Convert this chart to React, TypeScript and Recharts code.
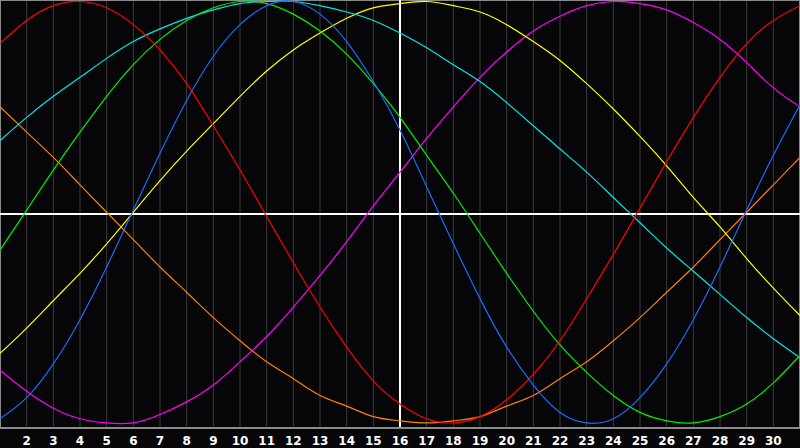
import React from "react";
import { LineChart, Line, XAxis, YAxis, CartesianGrid, ReferenceLine } from "recharts";

const days = [1,2,3,4,5,6,7,8,9,10,11,12,13,14,15,16,17,18,19,20,21,22,23,24,25,26,27,28,29,30,31];
const tickDays = [2,3,4,5,6,7,8,9,10,11,12,13,14,15,16,17,18,19,20,21,22,23,24,25,26,27,28,29,30];

const red = [80,91,98,100,97,89,77,61,41,20,-2,-24,-45,-64,-80,-91,-98,-100,-97,-89,-77,-61,-41,-20,2,24,45,64,80,91,98];
const green = [-18,1,20,38,55,70,82,91,97,100,99,94,86,75,61,45,27,9,-10,-29,-47,-63,-76,-87,-95,-99,-100,-97,-91,-81,-68];
const cyan = [34,45,55,64,73,81,87,92,96,99,100,100,98,95,91,85,78,70,62,52,41,30,19,7,-5,-17,-28,-39,-50,-60,-69];
const blue = [-98,-88,-72,-51,-26,1,28,53,74,89,98,100,94,81,62,39,12,-15,-41,-64,-82,-95,-100,-98,-88,-72,-51,-26,1,27,51];
const yellow = [-67,-55,-42,-29,-15,0,15,29,42,55,67,77,85,92,97,99,100,98,95,89,81,72,61,49,36,22,7,-7,-22,-36,-49];
const magenta = [-75,-85,-93,-98,-100,-100,-96,-90,-82,-71,-59,-45,-30,-14,3,19,35,50,64,76,86,93,98,100,99,96,90,82,71,59,50];
const orange = [50,38,26,13,0,-13,-26,-38,-50,-61,-71,-79,-87,-92,-97,-99,-100,-99,-97,-92,-87,-79,-71,-61,-50,-38,-26,-13,0,13,26];

const data = days.map((d, i) => ({
  day: d,
  red: red[i],
  green: green[i],
  cyan: cyan[i],
  blue: blue[i],
  yellow: yellow[i],
  magenta: magenta[i],
  orange: orange[i],
}));

const Y_MIN = -102.4;
const Y_MAX = 100.7;

const series: { key: string; color: string }[] = [
  { key: "orange", color: "#ff7f00" },
  { key: "magenta", color: "#ff00ff" },
  { key: "yellow", color: "#ffff00" },
  { key: "cyan", color: "#00e8e8" },
  { key: "green", color: "#00ee00" },
  { key: "red", color: "#ff0000" },
  { key: "blue", color: "#1a6cff" },
];

export default function App() {
  return (
    <div style={{ position: "absolute", left: 0, top: 0, width: 800, height: 448, background: "#060608" }}>
      <LineChart width={800} height={448} data={data} margin={{ top: 0, right: 0, bottom: 0, left: 0 }}>
        <CartesianGrid horizontal={false} vertical={true} stroke="#3c3c3c" strokeWidth={1} />
        <XAxis
          dataKey="day"
          type="number"
          domain={[1, 31]}
          ticks={tickDays}
          interval={0}
          height={20}
          tickLine={false}
          axisLine={{ stroke: "#8a8a8a", strokeWidth: 2 }}
          tick={{ fill: "#ffffff", fontSize: 12, fontWeight: "bold", fontFamily: "DejaVu Sans" }}
          allowDataOverflow
        />
        <YAxis hide type="number" domain={[Y_MIN, Y_MAX]} allowDataOverflow />
        <ReferenceLine y={Y_MAX} stroke="#8a8a8a" strokeWidth={2} ifOverflow="visible" />
        <ReferenceLine x={1} stroke="#8a8a8a" strokeWidth={2} ifOverflow="visible" />
        <ReferenceLine x={31} stroke="#8a8a8a" strokeWidth={2} ifOverflow="visible" />
        <ReferenceLine y={-0.8} stroke="#ffffff" strokeWidth={2} />
        <ReferenceLine x={16} stroke="#ffffff" strokeWidth={2} />
        {series.map((s) => (
          <Line
            key={s.key}
            dataKey={s.key}
            type="natural"
            stroke={s.color}
            strokeWidth={1.2}
            dot={false}
            activeDot={false}
            isAnimationActive={false}
          />
        ))}
      </LineChart>
    </div>
  );
}
